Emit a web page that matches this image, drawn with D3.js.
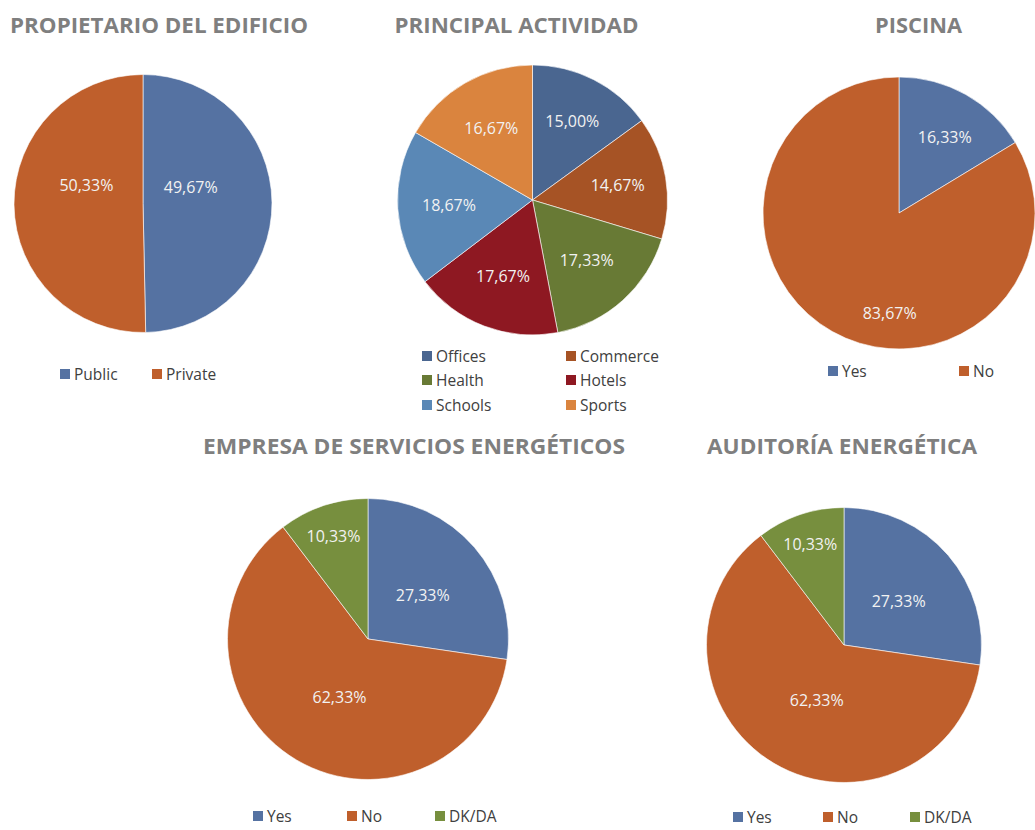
<!DOCTYPE html>
<meta charset="utf-8">
<script src="https://d3js.org/d3.v7.min.js"></script>
<style>
  body { margin: 0; background: #fff; }
  text { font-family: "Open Sans", "Noto Sans", sans-serif; }
</style>
<svg id="my_dataviz" width="1035" height="830"></svg>
<script>

    // data
    var ownerCats = ["Public", "Private"];
    var ownerVals = [49.67, 50.33];

    var activityCats = ["Offices", "Commerce", "Health", "Hotels", "Schools", "Sports"];
    var activityVals = [15.00, 14.67, 17.33, 17.67, 18.67, 16.67];

    var poolCats = ["Yes", "No"];
    var poolVals = [16.33, 83.67];

    var escoCats = ["Yes", "No", "DK/DA"];
    var escoVals = [27.33, 62.33, 10.33];

    var auditCats = ["Yes", "No", "DK/DA"];
    var auditVals = [27.33, 62.33, 10.33];

    // colours
    var blue = "#5572a2", orange = "#bf5f2c", green = "#778f3e";
    var activityColors = ["#4a6690", "#a65325", "#687a35", "#8e1822", "#5a88b6", "#da843e"];

    var svg = d3.select("svg");

    function fmt(v) {
        return v.toFixed(2).replace(".", ",") + "%";
    }

    function drawPie(cfg) {
        var g = svg.append("g");

        // title
        g.append("text")
            .attr("x", cfg.titleX)
            .attr("y", cfg.titleY)
            .attr("text-anchor", "middle")
            .attr("textLength", cfg.titleW)
            .attr("lengthAdjust", "spacingAndGlyphs")
            .style("font-size", "22px")
            .style("font-weight", "bold")
            .style("fill", "#7f7f7f")
            .text(cfg.title);

        var pie = d3.pie().sort(null).value(function (d) { return d; });
        var arcs = pie(cfg.values);
        var arc = d3.arc().innerRadius(0).outerRadius(cfg.r);

        var pg = g.append("g").attr("transform", "translate(" + cfg.cx + "," + cfg.cy + ")");

        pg.selectAll("path")
            .data(arcs)
            .enter()
            .append("path")
            .attr("d", arc)
            .attr("fill", function (d, i) { return cfg.colors[i]; })
            .style("stroke", "#ffffff")
            .style("stroke-width", 0.6);

        // labels
        pg.selectAll("text")
            .data(arcs)
            .enter()
            .append("text")
            .attr("transform", function (d, i) {
                var t = cfg.labelT ? cfg.labelT[i] : 0.5;
                var a = d.startAngle + t * (d.endAngle - d.startAngle);
                var rr = cfg.r * cfg.labelR[i];
                return "translate(" + (Math.sin(a) * rr) + "," + (-Math.cos(a) * rr) + ")";
            })
            .attr("text-anchor", "middle")
            .attr("dy", "0.35em")
            .style("font-size", "16px")
            .style("fill", "#f2f2f2")
            .text(function (d) { return fmt(d.data); });

        // legend
        var lg = g.append("g");
        var items = lg.selectAll("g")
            .data(cfg.cats)
            .enter()
            .append("g")
            .attr("transform", function (d, i) {
                return "translate(" + cfg.legX[i] + "," + cfg.legY[i] + ")";
            });
        items.append("rect")
            .attr("x", 0).attr("y", -5)
            .attr("width", 10).attr("height", 10)
            .attr("fill", function (d, i) { return cfg.colors[i]; });
        items.append("text")
            .attr("x", 14)
            .attr("dy", "0.36em")
            .style("font-size", "15.5px")
            .style("fill", "#404040")
            .text(function (d) { return d; });
    }

    drawPie({
        title: "PROPIETARIO DEL EDIFICIO", titleX: 159, titleY: 33, titleW: 298,
        cats: ownerCats, values: ownerVals, colors: [blue, orange],
        cx: 143, cy: 203.5, r: 129,
        labelT: [0.4, 0.6], labelR: [0.39, 0.46],
        legX: [60, 152], legY: [374, 374]
    });

    drawPie({
        title: "PRINCIPAL ACTIVIDAD", titleX: 516.5, titleY: 33, titleW: 244,
        cats: activityCats, values: activityVals, colors: activityColors,
        cx: 532.5, cy: 200, r: 135,
        labelR: [0.65, 0.64, 0.6, 0.61, 0.62, 0.61],
        legX: [422, 566, 422, 566, 422, 566], legY: [356, 356, 380, 380, 405, 405]
    });

    drawPie({
        title: "PISCINA", titleX: 918.5, titleY: 33, titleW: 87,
        cats: poolCats, values: poolVals, colors: [blue, orange],
        cx: 899, cy: 213, r: 136,
        labelT: [0.53, 0.42], labelR: [0.65, 0.74],
        legX: [828, 959], legY: [371, 371]
    });

    drawPie({
        title: "EMPRESA DE SERVICIOS ENERGÉTICOS", titleX: 414, titleY: 454, titleW: 422,
        cats: escoCats, values: escoVals, colors: [blue, orange, green],
        cx: 368, cy: 639, r: 140.5,
        labelT: [0.52, 0.48, 0.5], labelR: [0.5, 0.46, 0.77],
        legX: [253, 347, 435], legY: [816, 816, 816]
    });

    drawPie({
        title: "AUDITORÍA ENERGÉTICA", titleX: 842, titleY: 454, titleW: 270,
        cats: auditCats, values: auditVals, colors: [blue, orange, green],
        cx: 844, cy: 645, r: 137.5,
        labelT: [0.52, 0.48, 0.5], labelR: [0.51, 0.45, 0.77],
        legX: [733, 823, 910], legY: [817, 817, 817]
    });

</script>
